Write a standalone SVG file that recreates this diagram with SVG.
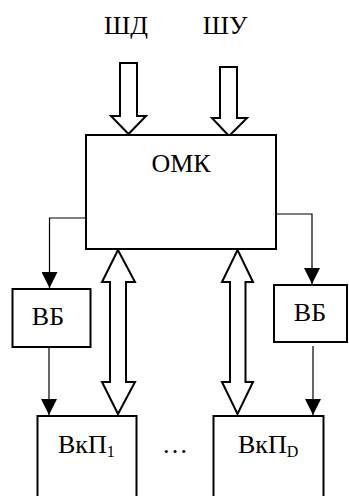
<svg xmlns="http://www.w3.org/2000/svg" width="349" height="496" viewBox="0 0 349 496">
  <style>
    .box { fill: #fff; stroke: #000; stroke-width: 2; }
    .bus { fill: #fff; stroke: #000; stroke-width: 2; stroke-linejoin: miter; }
    .wire { fill: none; stroke: #000; stroke-width: 1.2; }
    .lbl { font-family: "Liberation Serif", "Times New Roman", serif; font-size: 26px; fill: #000; }
  </style>
  <defs>
    <marker id="tip" viewBox="0 0 16 16" refX="16" refY="8" markerWidth="16" markerHeight="16" markerUnits="userSpaceOnUse" orient="auto">
      <path d="M0,0 L16,8 L0,16 Z" fill="#000"/>
    </marker>
  </defs>

  <rect width="349" height="496" fill="#fff"/>

  <!-- bus labels -->
  <text class="lbl" x="126" y="34" text-anchor="middle">ШД</text>
  <text class="lbl" x="225" y="34" text-anchor="middle">ШУ</text>

  <!-- connectors -->
  <g id="connectors">
    <!-- input buses into the controller -->
    <path class="bus" d="M120,63 L137,63 L137,116 L146,116 L128.5,134 L111,116 L120,116 Z"/>
    <path class="bus" d="M220,67 L237,67 L237,118 L247,118 L229,136 L212,118 L220,118 Z"/>
    <!-- bidirectional buses -->
    <path class="bus" d="M118,250 L135,282 L126,282 L126,382 L135,382 L118,414 L102,382 L110,382 L110,282 L102,282 Z"/>
    <path class="bus" d="M237.5,250 L253,282 L245.5,282 L245.5,382 L253,382 L237.5,414 L222,382 L230,382 L230,282 L222,282 Z"/>
    <!-- control lines -->
    <polyline class="wire" points="86,218 49.5,218 49.5,288" marker-end="url(#tip)"/>
    <polyline class="wire" points="276,214 312,214 312,284" marker-end="url(#tip)"/>
    <line class="wire" x1="49" y1="347" x2="49" y2="415" marker-end="url(#tip)"/>
    <line class="wire" x1="313" y1="346" x2="313" y2="415" marker-end="url(#tip)"/>
  </g>

  <g id="omk">
    <rect class="box" x="86" y="135" width="190" height="114"/>
    <text class="lbl" x="181" y="172" text-anchor="middle">ОМК</text>
  </g>

  <g id="vb-left">
    <rect class="box" x="12.5" y="289" width="78" height="58"/>
    <text class="lbl" x="48" y="325" text-anchor="middle">ВБ</text>
  </g>

  <g id="vb-right">
    <rect class="box" x="274" y="285" width="73" height="57"/>
    <text class="lbl" x="310" y="321" text-anchor="middle">ВБ</text>
  </g>

  <g id="vkp-1">
    <rect class="box" x="37.5" y="416" width="99" height="90"/>
    <text class="lbl" x="58" y="453">ВкП<tspan font-size="16" dy="4">1</tspan></text>
  </g>

  <text class="lbl" x="175" y="453" text-anchor="middle">…</text>

  <g id="vkp-d">
    <rect class="box" x="213.5" y="416" width="110" height="90"/>
    <text class="lbl" x="238" y="453">ВкП<tspan font-size="16" dy="4">D</tspan></text>
  </g>
</svg>
